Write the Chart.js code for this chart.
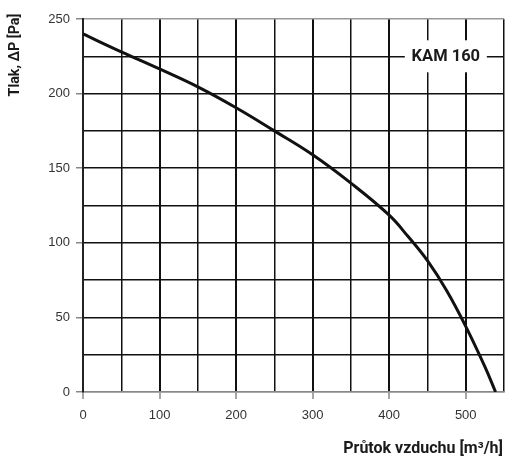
<!DOCTYPE html>
<html>
<head>
<meta charset="utf-8">
<script src="https://cdn.jsdelivr.net/npm/chart.js@4/dist/chart.umd.min.js"></script>
<style>
  html, body { margin: 0; padding: 0; background: #fff; }
  #wrap { width: 505px; height: 456px; }
</style>
</head>
<body>
<div id="wrap"><canvas id="c" width="505" height="456"></canvas></div>
<script>
// Data
const flowX = [0, 50, 100, 150, 200, 250, 300, 350, 400, 425, 450, 475, 500, 525, 539];
const pressureY = [240, 228, 216.5, 204.5, 190.5, 175, 159, 140, 118.5, 104, 88, 68, 44, 17, 0];
const seriesName = 'KAM 160';
const xTitle = 'Průtok vzduchu [m³/h]';
const yTitle = 'Tlak, ΔP [Pa]';
const xMin = 0, xMax = 550, xStep = 50, xLabelStep = 100, xLabelMax = 500;
const yMin = 0, yMax = 250, yStep = 25, yLabelStep = 50;

const points = flowX.map((x, i) => ({ x: x, y: pressureY[i] }));

const overlay = {
  id: 'overlay',
  afterDraw(chart) {
    const ctx = chart.ctx;
    const xs = chart.scales.x, ys = chart.scales.y;
    ctx.save();
    // series label box
    const lx = xs.getPixelForValue(474);
    const ly = ys.getPixelForValue(225);
    ctx.fillStyle = '#fff';
    ctx.fillRect(lx - 41, ly - 16, 82, 32);
    ctx.fillStyle = '#1a1a1a';
    ctx.font = 'bold 16.5px Roboto';
    ctx.textAlign = 'center';
    ctx.textBaseline = 'middle';
    ctx.fillText(seriesName, lx, ly + 1);
    // x title
    ctx.font = 'bold 16px Roboto';
    ctx.textAlign = 'right';
    ctx.textBaseline = 'alphabetic';
    ctx.fillText(xTitle, 503, 453);
    // y title
    ctx.translate(19, 55);
    ctx.rotate(-Math.PI / 2);
    ctx.textAlign = 'center';
    ctx.textBaseline = 'alphabetic';
    ctx.font = 'bold 14.3px Roboto';
    ctx.fillText(yTitle, 0, 0);
    ctx.restore();
  }
};

new Chart(document.getElementById('c'), {
  type: 'line',
  data: {
    datasets: [{
      label: seriesName,
      data: points,
      borderColor: '#111',
      borderWidth: 3,
      pointRadius: 0,
      fill: false,
      tension: 0.4
    }]
  },
  options: {
    responsive: false,
    animation: false,
    layout: { padding: { left: 0, right: 1, top: 19, bottom: 0 } },
    plugins: { legend: { display: false }, tooltip: { enabled: false } },
    scales: {
      x: {
        type: 'linear',
        min: xMin, max: xMax,
        afterFit(s) { s.height = 64; s.paddingLeft = 0; s.paddingRight = 0; },
        border: { display: true, color: '#888', width: 1.5 },
        grid: {
          color: '#111',
          lineWidth: (c) => (c.tick && c.tick.value % 100 === 0) ? 2 : 1.5,
          tickLength: 7,
          tickColor: (c) => (c.tick && c.tick.value % xLabelStep === 0 && c.tick.value <= xLabelMax) ? '#888' : 'rgba(0,0,0,0)',
          tickWidth: 1.5
        },
        ticks: {
          stepSize: xStep,
          autoSkip: false,
          maxRotation: 0,
          padding: 9,
          color: '#333',
          font: { family: 'Liberation Sans', size: 13 },
          callback: (v) => (v % xLabelStep === 0 && v <= xLabelMax) ? v : ''
        }
      },
      y: {
        type: 'linear',
        min: yMin, max: yMax,
        afterFit(s) { s.width = 83; s.paddingTop = 0; s.paddingBottom = 0; },
        border: { display: true, color: '#222', width: 2 },
        grid: {
          color: (c) => (c.tick && (c.tick.value === 0 || c.tick.value === yMax)) ? '#999' : '#111',
          lineWidth: 1.5,
          tickLength: 7,
          tickColor: (c) => (c.tick && c.tick.value % yLabelStep === 0) ? '#888' : 'rgba(0,0,0,0)',
          tickWidth: 1.5
        },
        ticks: {
          stepSize: yStep,
          autoSkip: false,
          padding: 6,
          color: '#333',
          font: { family: 'Liberation Sans', size: 13 },
          callback: (v) => (v % yLabelStep === 0) ? v : ''
        }
      }
    }
  },
  plugins: [overlay]
});
</script>
</body>
</html>
